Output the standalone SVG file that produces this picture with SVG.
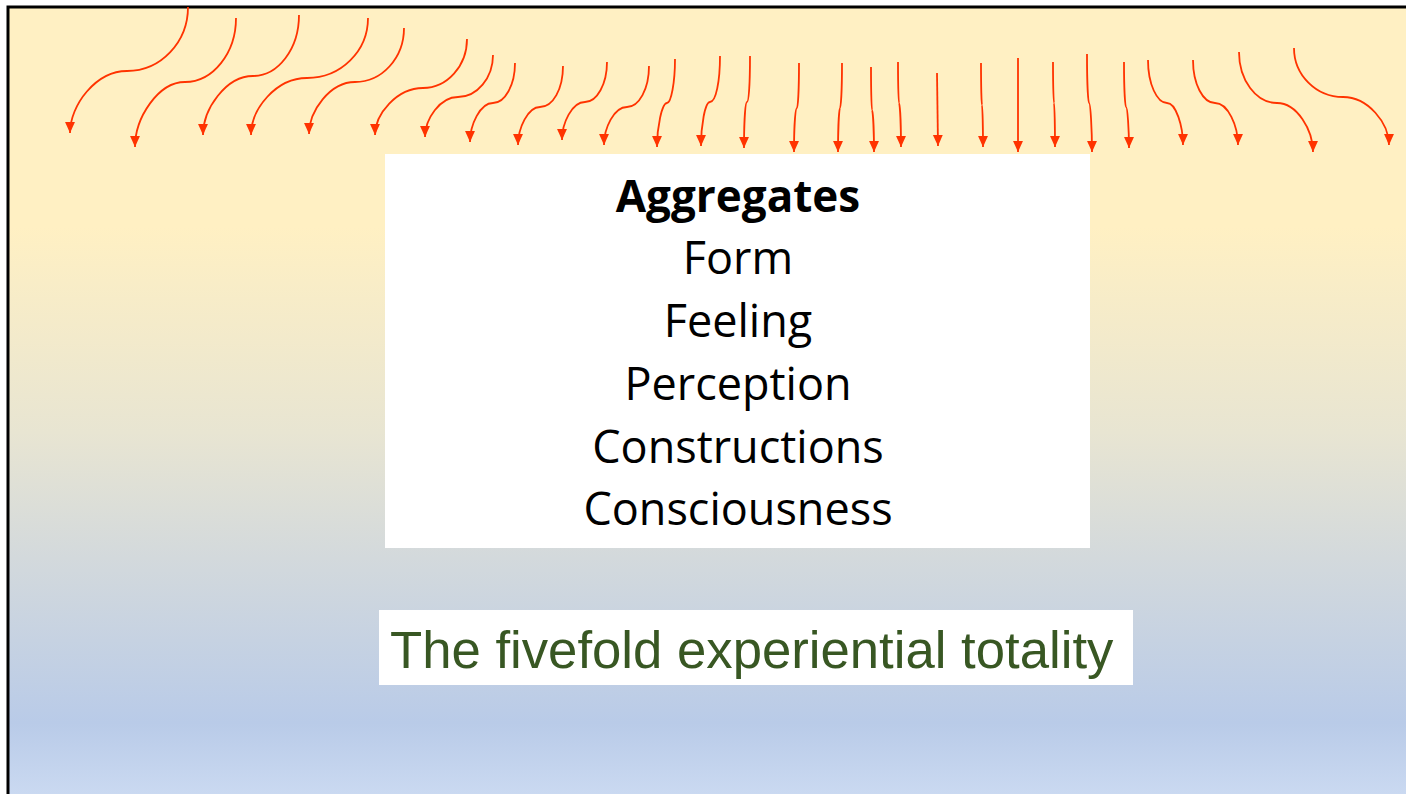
<svg xmlns="http://www.w3.org/2000/svg" width="1406" height="794" viewBox="0 0 1406 794">
  <style>
    .arr { fill: none; stroke: #FF3300; stroke-width: 1.8; marker-end: url(#head); }
    .agg { font-family: "Open Sans", "Noto Sans", sans-serif; font-size: 45px; fill: #000; text-anchor: middle; }
    .bold { font-weight: bold; font-size: 44px; }
    .cap { font-family: "Liberation Sans", Arial, sans-serif; font-size: 52.7px; fill: #385723; }
  </style>
  <defs>
    <linearGradient id="bg" x1="0" y1="0" x2="0" y2="1">
      <stop offset="0" stop-color="#FFF0C3"/>
      <stop offset="0.28" stop-color="#FFF0C3"/>
      <stop offset="0.54" stop-color="#E8E5D2"/>
      <stop offset="0.70" stop-color="#D3D9DC"/>
      <stop offset="0.91" stop-color="#B9CBE8"/>
      <stop offset="1" stop-color="#CAD9F1"/>
    </linearGradient>
    <marker id="head" markerUnits="userSpaceOnUse" markerWidth="11" markerHeight="11" viewBox="0 0 10 10" refX="10" refY="5" orient="auto">
      <path d="M0,0.5 L10,5 L0,9.5 Z" fill="#FF3300"/>
    </marker>
  </defs>
  <rect x="0" y="0" width="1406" height="794" fill="#FFFFFF"/>
  <rect x="8" y="7" width="1398" height="787" fill="url(#bg)"/>
  <path d="M8,794 L8,7 L1406,7" fill="none" stroke="#000" stroke-width="3"/>

  <g id="connectors">
    <path class="arr" d="M188,7 C188,42 161,71 127,71 C96,71 70,105 70,133"/>
    <path class="arr" d="M236,18 C236,53 213,82 185,82 C158,82 135,118 135,147"/>
    <path class="arr" d="M299,15 C299,49 278,76 253,76 C226,76 203,109 203,135"/>
    <path class="arr" d="M368,18 C368,51 341,78 307,78 C276,78 251,109 251,135"/>
    <path class="arr" d="M404,28 C404,58 382,82 355,82 C330,82 309,111 309,134"/>
    <path class="arr" d="M467,39 C467,66 447,88 423,88 C397,88 375,114 375,135"/>
    <path class="arr" d="M493,55 C493,78 477,97 458,97 C440,97 425,119 425,137"/>
    <path class="arr" d="M515,63 C515,85 505,103 493,103 C480,103 470,125 470,142"/>
    <path class="arr" d="M563,66 C563,89 553,107 540,107 C528,107 518,128 518,145"/>
    <path class="arr" d="M607,62 C607,84 597,102 585,102 C572,102 562,123 562,140"/>
    <path class="arr" d="M649,66 C649,89 639,107 627,107 C614,107 604,128 604,145"/>
    <path class="arr" d="M675,59 C675,83 671,103 667,103 C662,103 657,127 657,147"/>
    <path class="arr" d="M720,56 C720,81 716,102 710,102 C705,102 701,126 701,146"/>
    <path class="arr" d="M750,56 C750,81 749,102 747,102 C745,102 744,127 744,148"/>
    <path class="arr" d="M799,63 C799,88 798,108 797,108 C795,108 794,132 794,152"/>
    <path class="arr" d="M842,63 C842,88 841,108 840,108 C839,108 838,132 838,152"/>
    <path class="arr" d="M871,67 C871,91 871.5,110 872,110 C873,110 874,133 874,152"/>
    <path class="arr" d="M898,62 C898,85 898.5,103 899,103 C900,103 901,127 901,147"/>
    <path class="arr" d="M937,73 L938,146"/>
    <path class="arr" d="M981,63 C981,86 981.5,105 982,105 C982.5,105 983,128 983,147"/>
    <path class="arr" d="M1018,58 L1018,152"/>
    <path class="arr" d="M1053,62 C1053,85 1053.5,103 1054,103 C1054.5,103 1055,127 1055,147"/>
    <path class="arr" d="M1087,54 C1087,81 1088,103 1089,103 C1090.5,103 1092,130 1092,152"/>
    <path class="arr" d="M1124,62 C1124,87 1125,107 1126,107 C1127.5,107 1129,130 1129,148"/>
    <path class="arr" d="M1148,60 C1148,84 1157,103 1167,103 C1176,103 1183,126 1183,145"/>
    <path class="arr" d="M1193,60 C1193,84 1203,103 1215,103 C1228,103 1238,126 1238,145"/>
    <path class="arr" d="M1239,52 C1239,80 1256,103 1277,103 C1297,103 1313,130 1313,152"/>
    <path class="arr" d="M1294,48 C1294,75 1316,97 1343,97 C1368,97 1389,123 1389,145"/>
  </g>

  <g id="aggregates">
    <rect x="385" y="154" width="705" height="394" fill="#FFFFFF"/>
    <text class="agg bold" x="738" y="212">Aggregates</text>
    <text class="agg" x="738" y="274">Form</text>
    <text class="agg" x="738" y="337">Feeling</text>
    <text class="agg" x="738" y="400">Perception</text>
    <text class="agg" x="738" y="463">Constructions</text>
    <text class="agg" x="738" y="525">Consciousness</text>
  </g>

  <g id="caption">
    <rect x="379" y="610" width="754" height="75" fill="#FFFFFF"/>
    <text class="cap" x="390" y="668">The fivefold experiential totality</text>
  </g>
</svg>
